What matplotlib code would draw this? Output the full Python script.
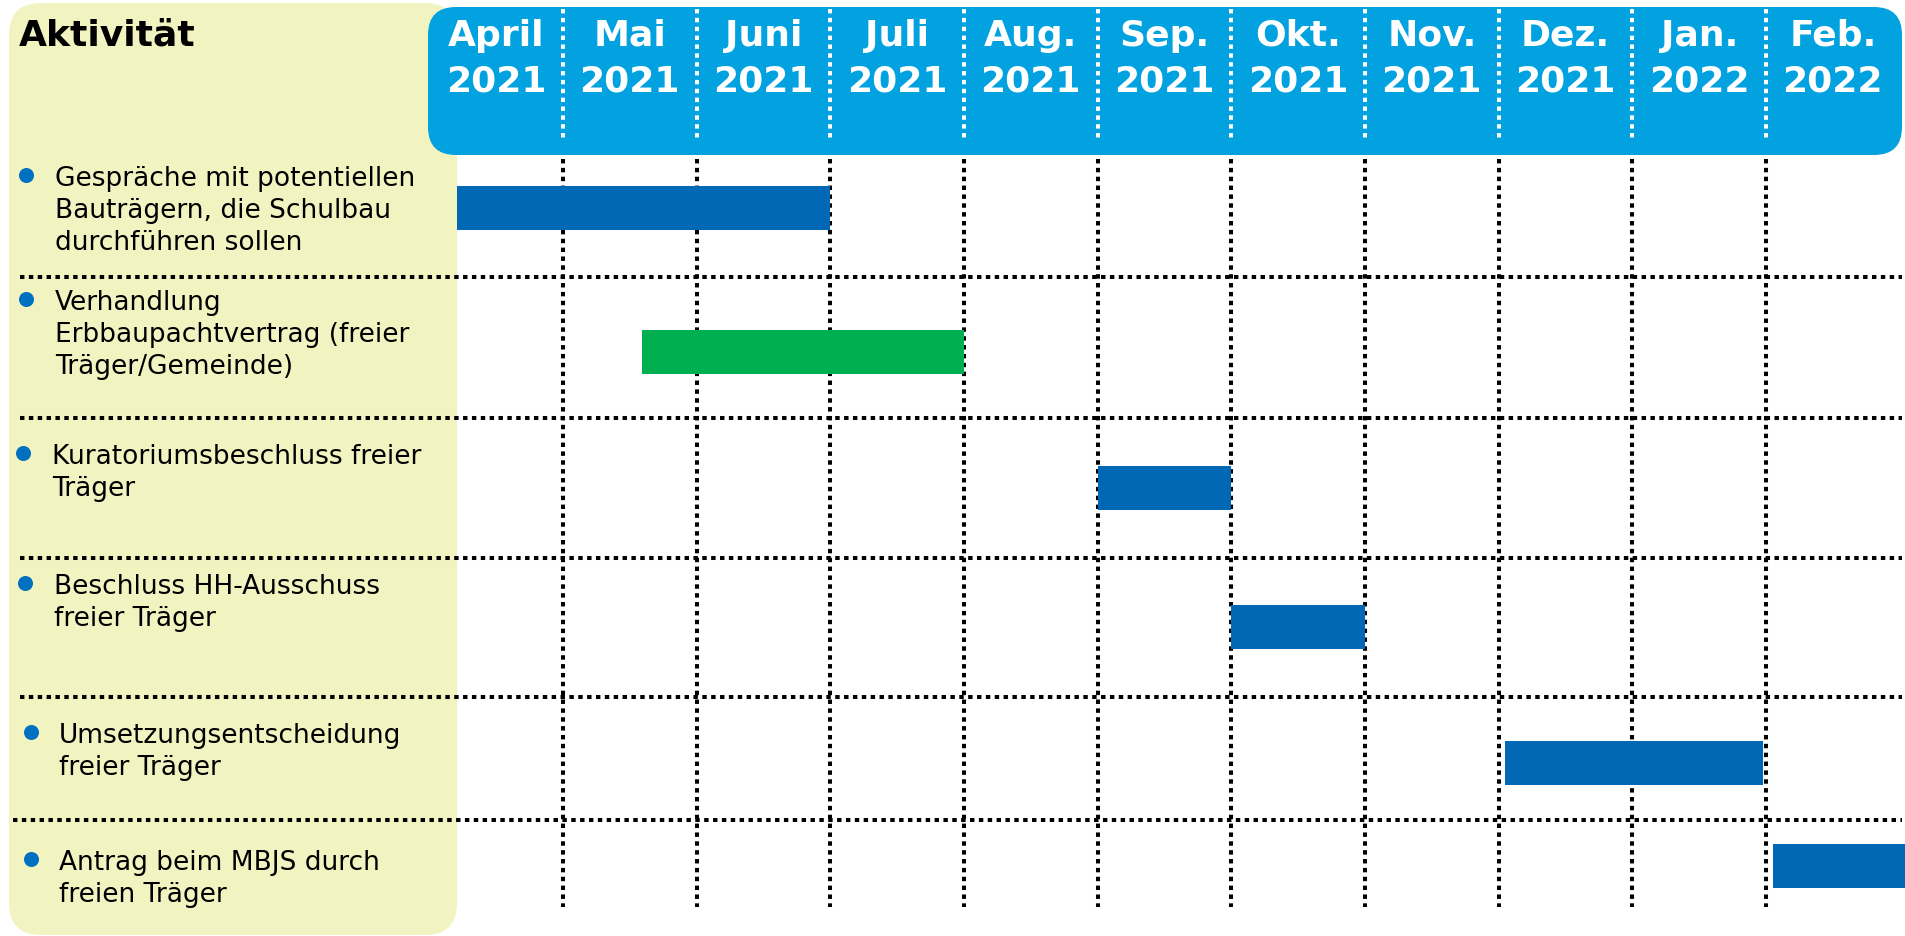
import matplotlib
matplotlib.use("Agg")
import matplotlib.pyplot as plt
from matplotlib.patches import FancyBboxPatch
from matplotlib.transforms import Affine2D

W, H = 1906, 937

# --- data -------------------------------------------------------------
MONTHS = ["April", "Mai", "Juni", "Juli", "Aug.", "Sep.", "Okt.",
          "Nov.", "Dez.", "Jan.", "Feb."]
YEARS = ["2021", "2021", "2021", "2021", "2021", "2021", "2021",
         "2021", "2021", "2022", "2022"]
TASKS = [
    ["Gespräche mit potentiellen", "Bauträgern, die Schulbau", "durchführen sollen"],
    ["Verhandlung", "Erbbaupachtvertrag (freier", "Träger/Gemeinde)"],
    ["Kuratoriumsbeschluss freier", "Träger"],
    ["Beschluss HH-Ausschuss", "freier Träger"],
    ["Umsetzungsentscheidung", "freier Träger"],
    ["Antrag beim MBJS durch", "freien Träger"],
]
# months counted from 1 April 2021
START = [0.0, 1.59, 5.0, 6.0, 8.05, 10.05]
END = [3.0, 4.0, 6.0, 7.0, 9.98, 11.1]
BAR_COLOR = ["#0068B4", "#00B050", "#0068B4", "#0068B4", "#0068B4", "#0068B4"]

# --- layout (pixels, top-down) ----------------------------------------
X0_PX, MONTH_PX = 429.3, 133.67          # April start and month width
BAR_Y = [209, 353, 489, 628, 764, 867]
TEXT_Y = [177, 301, 455, 585, 734, 861]  # centre of first text line
TEXT_X = [55, 55, 52, 54, 59, 59]
BULLET_X = [26, 26, 23, 25, 31, 31]
ROW_LINES = [278, 419, 559, 698, 821]
ROW_LINE_X0 = [20, 20, 20, 20, 13]
LINE_PITCH = 32

HEADER_BLUE = "#02A1E0"
PANEL_YELLOW = "#F1F4C1"
BULLET_BLUE = "#0070C0"
DOTS = (0, (1.1, 1.1))
DOT_LW = 2.9

fig = plt.figure(figsize=(W / 100, H / 100), dpi=100)
ax = fig.add_axes([0, 0, 1, 1])
ax.set_xlim(-X0_PX / MONTH_PX, (W - X0_PX) / MONTH_PX)
ax.set_ylim(H, 0)
ax.axis("off")

# pixel transform for the decoration
PX = Affine2D().scale(1 / W, -1 / H).translate(0, 1) + fig.transFigure

panel = FancyBboxPatch((9, 4), 448, 932, boxstyle="round,pad=0,rounding_size=32",
                       fc=PANEL_YELLOW, ec="none", transform=PX, zorder=3)
ax.add_patch(panel)
header = FancyBboxPatch((428, 8), 1474, 148, boxstyle="round,pad=0,rounding_size=28",
                        fc=HEADER_BLUE, ec="none", transform=PX, zorder=3)
ax.add_patch(header)

bounds = list(range(1, len(MONTHS)))
ax.vlines(bounds, 160, 908, colors="black", linewidth=DOT_LW, linestyles=DOTS, zorder=1)
ax.vlines(bounds, 10, 142, colors="white", linewidth=DOT_LW, linestyles=DOTS, zorder=4)
for y, x0 in zip(ROW_LINES, ROW_LINE_X0):
    ax.plot([x0, 1902], [y, y], color="black", lw=DOT_LW, ls=DOTS, transform=PX, zorder=4)

# bars
widths = [e - s for s, e in zip(START, END)]
ax.barh(BAR_Y, widths, left=START, height=44, color=BAR_COLOR, zorder=2)

# month header
for i, (m, yr) in enumerate(zip(MONTHS, YEARS)):
    ax.text(i + 0.5, 46, m, ha="center", va="baseline", color="white",
            fontsize=26, fontweight="bold", zorder=5)
    ax.text(i + 0.5, 91, yr, ha="center", va="baseline", color="white",
            fontsize=26, fontweight="bold", zorder=5)

ax.text(19, 45, "Aktivität", transform=PX, ha="left", va="baseline",
        fontsize=26, fontweight="bold", color="black", zorder=5)

# task labels
for lines, tx, ty, bx in zip(TASKS, TEXT_X, TEXT_Y, BULLET_X):
    ax.plot([bx], [ty - 1], "o", ms=10.8, color=BULLET_BLUE, mec="none",
            transform=PX, zorder=5)
    for k, line in enumerate(lines):
        ax.text(tx, ty + 9 + k * LINE_PITCH, line, transform=PX, ha="left",
                va="baseline", fontsize=19, color="black", zorder=5)

fig.savefig("out.png", dpi=100)
